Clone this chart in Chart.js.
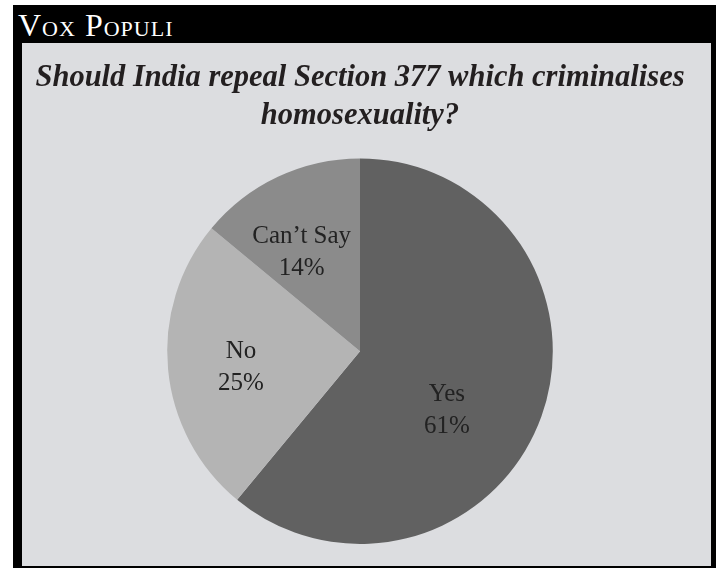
<!DOCTYPE html>
<html>
<head>
<meta charset="utf-8">
<script src="https://cdn.jsdelivr.net/npm/chart.js@4"></script>
<style>
  html, body { margin: 0; padding: 0; background: #ffffff; }
  body { width: 721px; height: 570px; position: relative; overflow: hidden; }
  #frame {
    position: absolute; left: 13px; top: 5px; width: 703px; height: 563px;
    background: #000000;
  }
  #header {
    position: absolute; left: 5px; top: 0px; height: 38px; line-height: 40px;
    color: #ffffff; font-family: "Liberation Serif", serif; font-size: 32px;
    font-variant: small-caps; letter-spacing: 1px;
  }
  #panel {
    position: absolute; left: 9px; top: 38px; width: 689px; height: 523px;
    background: #dcdde0;
  }
  #panel canvas { display: block; }
</style>
</head>
<body>
<div id="frame">
  <div id="header">Vox Populi</div>
  <div id="panel"><canvas id="myChart" width="689" height="523"></canvas></div>
</div>
<script>
// Poll answers and their shares in percent
const answers = ['Yes', 'No', 'Can\u2019t Say'];
const shares = [61, 25, 14];
const sliceColors = ['#616161', '#b4b4b4', '#8b8b8b'];
const titleLines = ['Should India repeal Section 377 which criminalises', 'homosexuality?'];

// Where each slice's label sits: angle nudge (degrees) and fraction of the radius
const labelPlacement = [
  { turn: 12, dist: 0.53 },
  { turn: 0, dist: 0.62 },
  { turn: -4, dist: 0.62 }
];

// Draws the answer and percentage inside each slice
const sliceLabels = {
  id: 'sliceLabels',
  afterDatasetsDraw(chart) {
    const c = chart.ctx;
    const meta = chart.getDatasetMeta(0);
    c.save();
    c.fillStyle = '#222222';
    c.font = '25px "Liberation Serif", serif';
    c.textAlign = 'center';
    c.textBaseline = 'alphabetic';
    meta.data.forEach((arc, i) => {
      const p = labelPlacement[i];
      const mid = (arc.startAngle + arc.endAngle) / 2 + p.turn * Math.PI / 180;
      const r = arc.outerRadius * p.dist;
      const x = arc.x + Math.cos(mid) * r;
      const y = arc.y + Math.sin(mid) * r;
      c.fillText(answers[i], x, y - 4);
      c.fillText(chart.data.datasets[0].data[i] + '%', x, y + 28);
    });
    c.restore();
  }
};

const ctx = document.getElementById('myChart');

new Chart(ctx, {
  type: 'pie',
  plugins: [sliceLabels],
  data: {
    labels: answers,
    datasets: [{
      data: shares,
      backgroundColor: sliceColors,
      borderWidth: 0
    }]
  },
  options: {
    responsive: false,
    animation: false,
    layout: {
      padding: { left: 0, right: 13, top: 0, bottom: 22 }
    },
    plugins: {
      legend: { display: false },
      tooltip: { enabled: false },
      title: {
        display: true,
        text: titleLines,
        color: '#231f20',
        font: { family: '"Liberation Serif", serif', size: 30.5, style: 'italic', weight: 'bold', lineHeight: 1.22 },
        padding: { top: 17, bottom: 24 }
      }
    }
  }
});
</script>
</body>
</html>
